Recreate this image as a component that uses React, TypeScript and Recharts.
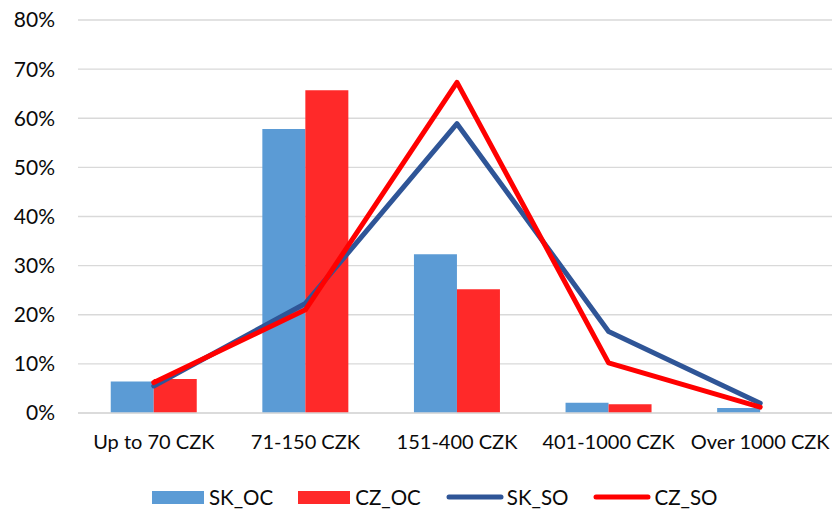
import React from "react";
import {
  ComposedChart,
  Bar,
  Line,
  XAxis,
  YAxis,
  CartesianGrid,
  Legend,
} from "recharts";

const categories = ["Up to 70 CZK", "71-150 CZK", "151-400 CZK", "401-1000 CZK", "Over 1000 CZK"];
const skOC = [6.4, 57.8, 32.3, 2.1, 1.0];
const czOC = [6.9, 65.7, 25.2, 1.8, 0];
const skSO = [5.5, 22.3, 58.9, 16.6, 2.0];
const czSO = [6.2, 21.0, 67.3, 10.2, 1.2];
const yTicks = [0, 10, 20, 30, 40, 50, 60, 70, 80];

const data = categories.map((c, i) => ({
  name: c,
  SK_OC: skOC[i],
  CZ_OC: czOC[i],
  SK_SO: skSO[i],
  CZ_SO: czSO[i],
}));

const FONT = "Lato, 'Open Sans', sans-serif";
const TEXT = "#0a0a0a";

const legendItems = [
  { key: "SK_OC", color: "#5B9BD5", type: "bar" },
  { key: "CZ_OC", color: "#FF2929", type: "bar" },
  { key: "SK_SO", color: "#2F5597", type: "line" },
  { key: "CZ_SO", color: "#FF0000", type: "line" },
];

const CustomLegend = () => (
  <div
    style={{
      display: "flex",
      justifyContent: "flex-start",
      alignItems: "center",
      paddingLeft: 152,
      paddingTop: 16,
      height: 24,
      fontFamily: FONT,
      fontSize: 20.5,
      color: TEXT,
    }}
  >
    {legendItems.map((it) => (
      <div key={it.key} style={{ display: "flex", alignItems: "center", marginRight: 25 }}>
        {it.type === "bar" ? (
          <div style={{ width: 52, height: 13, background: it.color, marginRight: 5 }} />
        ) : (
          <svg width={58} height={8} style={{ marginRight: 3 }}>
            <line x1={3} y1={4} x2={55} y2={4} stroke={it.color} strokeWidth={5} strokeLinecap="round" />
          </svg>
        )}
        <span style={{ lineHeight: "24px" }}>{it.key}</span>
      </div>
    ))}
  </div>
);

export default function App() {
  return (
    <div style={{ position: "absolute", left: 0, top: 0, width: 832, height: 509, overflow: "hidden", background: "#fff" }}>
      <ComposedChart
        width={836}
        height={509}
        data={data}
        margin={{ top: 20, right: 0, bottom: 0, left: 0 }}
        barCategoryGap="21.6%"
        barGap={0}
      >
        <CartesianGrid vertical={false} stroke="#D9D9D9" strokeWidth={1.3} />
        <XAxis
          dataKey="name"
          axisLine={{ stroke: "#D9D9D9", strokeWidth: 1.3 }}
          tickLine={false}
          tickSize={0}
          tickMargin={22}
          height={56}
          interval={0}
          tick={{ fill: TEXT, fontSize: 20, fontFamily: FONT }}
        />
        <YAxis
          domain={[0, 80]}
          ticks={yTicks}
          axisLine={false}
          tickLine={false}
          tickSize={0}
          tickMargin={23}
          width={78}
          tickFormatter={(v: number) => `${v}%`}
          tick={{ fill: TEXT, fontSize: 21, fontFamily: FONT }}
        />
        <Legend verticalAlign="bottom" height={40} content={() => <CustomLegend />} />
        <Bar dataKey="SK_OC" fill="#5B9BD5" isAnimationActive={false} />
        <Bar dataKey="CZ_OC" fill="#FF2929" isAnimationActive={false} />
        <Line
          dataKey="SK_SO"
          stroke="#2F5597"
          strokeWidth={5}
          dot={false}
          strokeLinejoin="round"
          strokeLinecap="round"
          isAnimationActive={false}
        />
        <Line
          dataKey="CZ_SO"
          stroke="#FF0000"
          strokeWidth={5}
          dot={false}
          strokeLinejoin="round"
          strokeLinecap="round"
          isAnimationActive={false}
        />
      </ComposedChart>
    </div>
  );
}
